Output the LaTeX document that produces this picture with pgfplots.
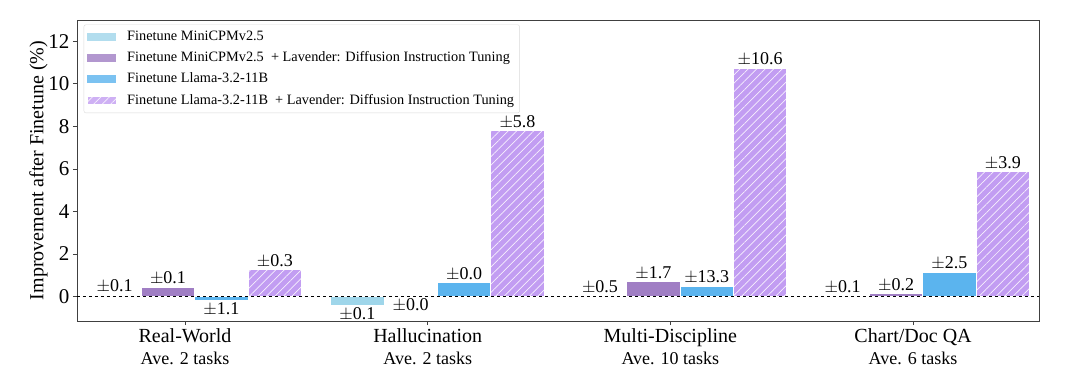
\documentclass[border=0pt]{standalone}
\usepackage{fontspec}
\setmainfont{Liberation Serif}
\usepackage{pgfplots}
\pgfplotsset{compat=1.18}
\usetikzlibrary{patterns.meta}
\definecolor{cA}{HTML}{9FD6EA}
\definecolor{cB}{HTML}{A07EC4}
\definecolor{cC}{HTML}{5BB4EE}
\definecolor{cD}{HTML}{C29DF2}
\begin{document}
\begin{tikzpicture}
\begin{axis}[
  scale only axis,
  width=962pt, height=301pt,
  xmin=-0.445, xmax=3.519,
  ymin=-1.15, ymax=13,
  axis line style={black!75, line width=0.8pt},
  ybar, bar width=0.22,
  xtick={0,1,2,3},
  xticklabels={
    {{\fontsize{20}{22}\selectfont Real-World}\\{\fontsize{18}{20}\selectfont Ave. 2 tasks}},
    {{\fontsize{20}{22}\selectfont Hallucination}\\{\fontsize{18}{20}\selectfont Ave. 2 tasks}},
    {{\fontsize{20}{22}\selectfont Multi-Discipline}\\{\fontsize{18}{20}\selectfont Ave. 10 tasks}},
    {{\fontsize{20}{22}\selectfont Chart/Doc QA}\\{\fontsize{18}{20}\selectfont Ave. 6 tasks}}},
  xticklabel style={align=center, font=\fontsize{20}{22.5}\selectfont},
  ytick={0,2,4,6,8,10,12},
  yticklabel style={font=\fontsize{21}{23}\selectfont},
  /pgf/number format/assume math mode=true,
  tick align=outside, xtick pos=bottom, ytick pos=left,
  major tick length=4pt,
  tick style={black!75, line width=0.8pt},
  ylabel={Improvement after Finetune (\%)},
  ylabel style={font=\fontsize{20}{22}\selectfont, yshift=-6pt},
  point meta=explicit symbolic,
  visualization depends on=rawy \as \rawy,
  nodes near coords={$\pm$\pgfplotspointmeta},
  nodes near coords style={font=\fontsize{18}{20}\selectfont, inner sep=1.5pt,
    anchor=\ifdim\rawy pt<0pt north\else south\fi},
  every axis plot/.append style={draw=white, line width=0.8pt},
  legend style={at={(0.007,0.985)}, anchor=north west,
    draw=black!15, rounded corners=2pt, fill=white, fill opacity=0.8, text opacity=1,
    font=\fontsize{14.3}{17}\selectfont,
    row sep=3pt, inner sep=3pt,
    nodes={inner sep=2.5pt, text height=10pt, text depth=3.3pt}},
  legend cell align=left,
  legend image code/.code={\path[#1, draw=none, sharp corners] (3pt,-4pt) rectangle (32pt,4pt); \path (40pt,0pt);},
]
\addplot[fill=cA, bar shift=-0.29] table[meta=l] {
x y l
0 0.06 0.1
1 -0.42 0.1
2 0.01 0.5
3 0.01 0.1
};
\addlegendentry{Finetune MiniCPMv2.5}
\addplot[fill=cB, bar shift=-0.07] table[meta=l] {
x y l
0 0.44 0.1
1 -0.001 0.0
2 0.71 1.7
3 0.13 0.2
};
\addlegendentry{Finetune MiniCPMv2.5\ \ + Lavender: Diffusion Instruction Tuning}
\addplot[fill=cC, bar shift=0.15] table[meta=l] {
x y l
0 -0.19 1.1
1 0.66 0.0
2 0.49 13.3
3 1.14 2.5
};
\addlegendentry{Finetune Llama-3.2-11B}
\addplot[fill=cD, bar shift=0.37,
  postaction={pattern={Lines[angle=45,distance=6pt,line width=0.7pt]}, pattern color=white!85!cD}] table[meta=l] {
x y l
0 1.26 0.3
1 7.81 5.8
2 10.73 10.6
3 5.88 3.9
};
\addlegendentry{Finetune Llama-3.2-11B\ \ + Lavender: Diffusion Instruction Tuning}
\draw[black, dashed, line width=0.6pt] ({rel axis cs:0,0}|-{axis cs:0,0}) -- ({rel axis cs:1,0}|-{axis cs:0,0});
\end{axis}
\pgfresetboundingbox
\path[use as bounding box] ([shift={(-77pt,-55pt)}]current axis.south west) rectangle ([shift={(41pt,20pt)}]current axis.north east);
\end{tikzpicture}
\end{document}
